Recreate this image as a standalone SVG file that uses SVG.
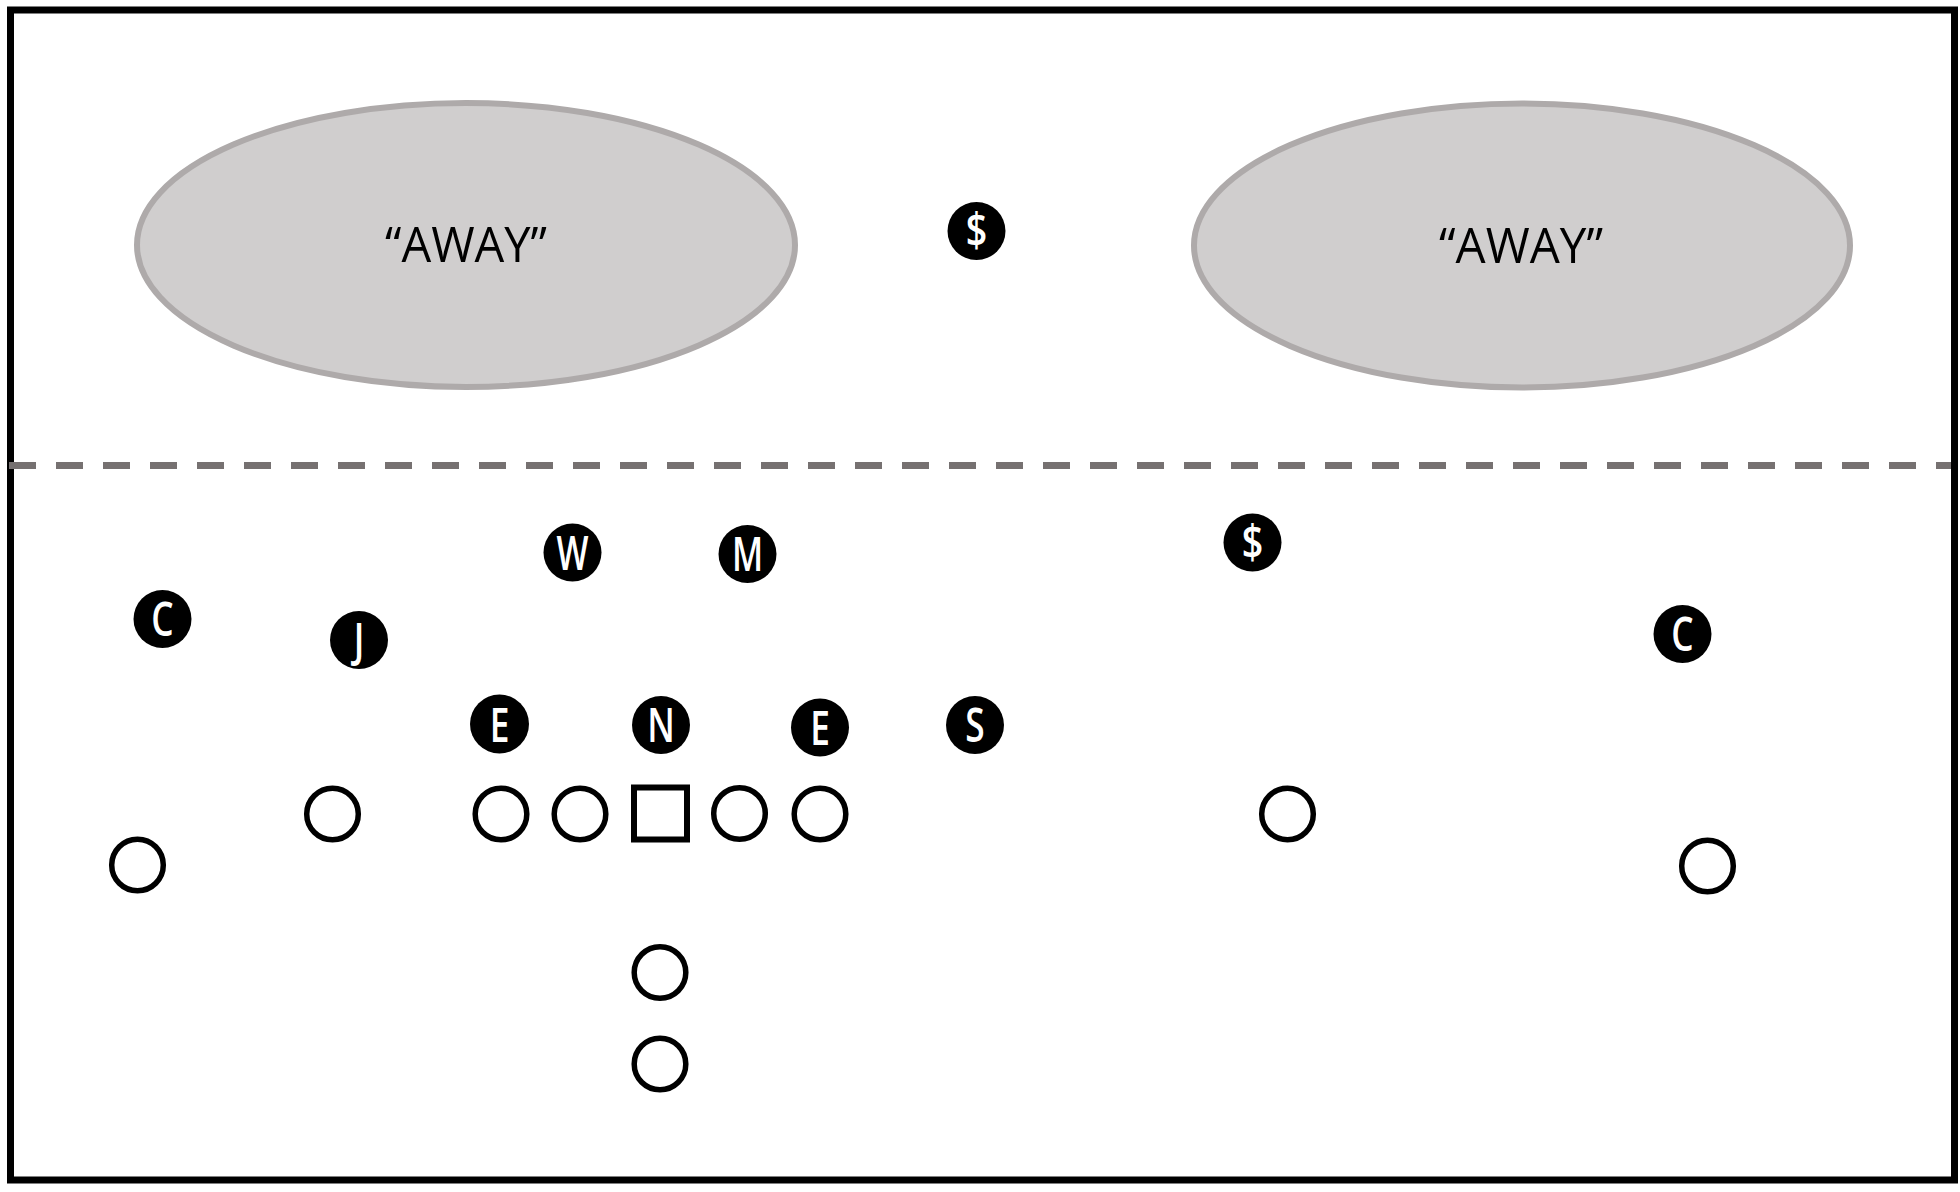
<svg xmlns="http://www.w3.org/2000/svg" width="1960" height="1192" viewBox="0 0 1960 1192">
<style>
.frame{fill:none;stroke:#000;stroke-width:7}
.los{stroke:#767171;stroke-width:7;stroke-dasharray:27 20;fill:none}
.zone{fill:#d0cece;stroke:#aeaaaa;stroke-width:6}
.zlabel{font-family:"Open Sans","Liberation Sans",sans-serif;font-size:50px;fill:#000;text-anchor:middle}
.def circle{fill:#000}
.def text{font-family:"Open Sans","Liberation Sans",sans-serif;font-size:47px;font-weight:600;fill:#fff;text-anchor:middle}
.off circle{fill:#fff;stroke:#000;stroke-width:5.5}
.off rect{fill:#fff;stroke:#000;stroke-width:6}
</style>
<rect width="1960" height="1192" fill="#fff"/>
<rect class="frame" x="10.5" y="10" width="1944" height="1170"/>
<g id="connectors">
<line class="los" x1="9" y1="465.5" x2="1951" y2="465.5"/>
</g>
<g id="away-left"><ellipse class="zone" cx="466" cy="245" rx="329" ry="142"/><text class="zlabel" x="466" y="262" textLength="162" lengthAdjust="spacingAndGlyphs">“AWAY”</text></g>
<g id="away-right"><ellipse class="zone" cx="1522" cy="245.5" rx="328" ry="142"/><text class="zlabel" x="1521" y="262.5" textLength="164" lengthAdjust="spacingAndGlyphs">“AWAY”</text></g>
<g class="def">
<g id="d-dollar-top" transform="translate(976.5,231)"><circle r="29"/><text transform="scale(0.8,1)" y="16">$</text></g>
<g id="d-w" transform="translate(572.5,552.5)"><circle r="29"/><text transform="scale(0.72,1)" y="17">W</text></g>
<g id="d-m" transform="translate(747.5,554)"><circle r="29"/><text transform="scale(0.72,1)" y="17">M</text></g>
<g id="d-dollar" transform="translate(1252.5,542.5)"><circle r="29"/><text transform="scale(0.8,1)" y="16">$</text></g>
<g id="d-c-left" transform="translate(162.5,619)"><circle r="29"/><text transform="scale(0.75,1)" y="17">C</text></g>
<g id="d-j" transform="translate(359,640)"><circle r="29"/><text transform="scale(0.75,1)" y="17">J</text></g>
<g id="d-c-right" transform="translate(1682.5,634)"><circle r="29"/><text transform="scale(0.75,1)" y="17">C</text></g>
<g id="d-e-left" transform="translate(499.5,724)"><circle r="29.5"/><text transform="scale(0.75,1)" y="17.5">E</text></g>
<g id="d-n" transform="translate(661,725)"><circle r="29"/><text transform="scale(0.75,1)" y="17">N</text></g>
<g id="d-e-right" transform="translate(820,727.5)"><circle r="29"/><text transform="scale(0.75,1)" y="17">E</text></g>
<g id="d-s" transform="translate(975,725)"><circle r="29"/><text transform="scale(0.75,1)" y="17">S</text></g>
</g>
<g class="off">
<circle id="o-1" cx="332.5" cy="814" r="25.8"/>
<circle id="o-2" cx="501" cy="814" r="25.8"/>
<circle id="o-3" cx="580" cy="814" r="25.8"/>
<rect id="o-center" x="634" y="787.5" width="53" height="52"/>
<circle id="o-4" cx="739.5" cy="813.5" r="25.8"/>
<circle id="o-5" cx="820" cy="814" r="25.8"/>
<circle id="o-6" cx="1287.5" cy="814" r="25.8"/>
<circle id="o-7" cx="137.5" cy="865" r="25.8"/>
<circle id="o-8" cx="1707.5" cy="866" r="25.8"/>
<circle id="o-9" cx="660" cy="972.5" r="25.8"/>
<circle id="o-10" cx="660" cy="1064" r="25.8"/>
</g>
</svg>
